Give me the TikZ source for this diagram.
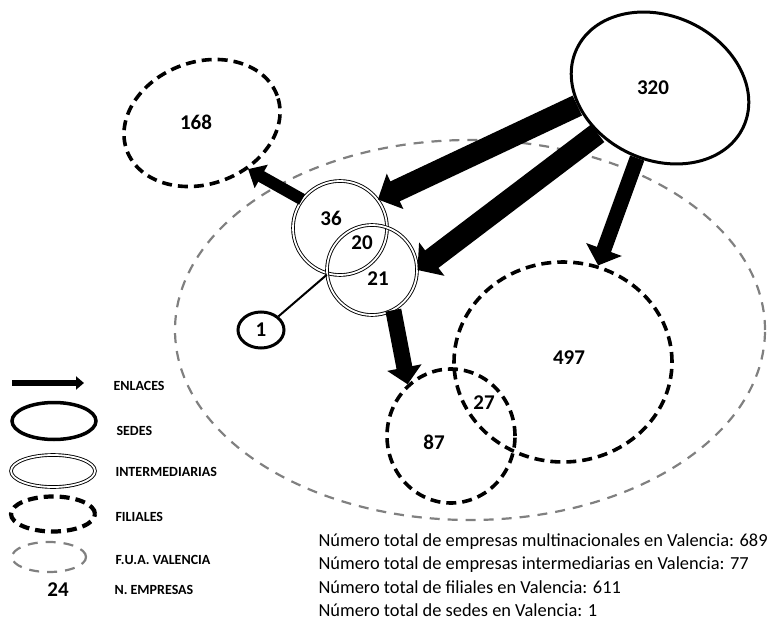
\documentclass[tikz,border=0pt]{standalone}
\usepackage{fontspec}
\setmainfont{Carlito}
\usetikzlibrary{shapes, arrows.meta}

\begin{document}
\begin{tikzpicture}[
    x=1pt, y=-1pt,
    sedeLine/.style={draw, ellipse, line width=3pt, inner sep=0pt},
    interLine/.style={draw, circle, double, line width=0.9pt, double distance=1.8pt, inner sep=0pt},
    filialLine/.style={draw, ellipse, line width=3.6pt, dash pattern=on 10pt off 6pt, inner sep=0pt},
    fuaLine/.style={draw=gray, ellipse, line width=2.2pt, dash pattern=on 10pt off 8pt, inner sep=0pt},
    linkArrow/.style n args={3}{line width=#1, -{Triangle[width=#2, length=#3]}},
    numLabel/.style={font=\fontsize{21}{25}\selectfont\bfseries},
    legText/.style={anchor=west, font=\fontsize{14}{16}\selectfont\bfseries},
    totText/.style={anchor=base west, font=\fontsize{18.4}{23}\selectfont},
    every node/.style={
        text centered,
        }
        ]
    \useasboundingbox (0,0) rectangle (778,620);

    % area
    \node[fuaLine, minimum width=590pt, minimum height=380pt] (fua) at (470,330) {};

    % sedes
    \node[sedeLine, minimum width=184pt, minimum height=144pt, rotate=-25] (sede) at (660,88) {};
    \node[numLabel] (lab320) at (653,88) {320};
    \node[sedeLine, minimum width=46pt, minimum height=36pt, numLabel] (sede1) at (261,330) {1};

    % intermediarias
    \node[interLine, minimum size=94pt] (int36) at (340,228) {};
    \node[interLine, minimum size=90pt] (int21) at (372,270) {};
    \node[numLabel] (lab36) at (331,218) {36};
    \node[numLabel] (lab20) at (362,243) {20};
    \node[numLabel] (lab21) at (378,279) {21};

    % filiales
    \node[filialLine, minimum width=160pt, minimum height=122pt, rotate=20] (fil168) at (202,123) {};
    \node[numLabel] (lab168) at (196,122) {168};
    \node[filialLine, minimum width=218pt, minimum height=200pt] (fil497) at (563,362) {};
    \node[numLabel] (lab497) at (569,358) {497};
    \node[filialLine, minimum width=128pt, minimum height=134pt] (fil87) at (451,436) {};
    \node[numLabel] (lab87) at (434,442) {87};
    \node[numLabel] (lab27) at (484,403) {27};

    % enlaces
    \draw[linkArrow={22pt}{38pt}{19pt}] (sede.217) -- (int36.37);
    \draw[linkArrow={22pt}{41pt}{18pt}] (sede.241) -- (int21.0);
    \draw[linkArrow={15pt}{37pt}{17pt}] (sede.277) -- (fil497.70);
    \draw[linkArrow={12pt}{26pt}{15pt}] (int36.143) -- (fil168.295);
    \draw[linkArrow={16pt}{34pt}{17pt}] (int21.298) -- (fil87.130);
    \draw[line width=2pt] (sede1.38) -- (int21.186);

    % leyenda
    \coordinate (legStart) at (12,383);
    \coordinate (legEnd) at (84,383);
    \draw[linkArrow={6pt}{13pt}{8pt}] (legStart) -- (legEnd);
    \node[sedeLine, minimum width=84pt, minimum height=37pt, line width=3.5pt] (legSede) at (54,421) {};
    \node[interLine, ellipse, minimum width=84pt, minimum height=32pt] (legInter) at (53,471) {};
    \node[filialLine, minimum width=84pt, minimum height=35pt, line width=4.2pt] (legFil) at (53,514) {};
    \node[fuaLine, minimum width=74pt, minimum height=30pt] (legFua) at (49,557) {};
    \node[numLabel] (legNum) at (58,590) {24};

    \node[legText] (txtEnl) at (110,386) {ENLACES};
    \node[legText] (txtSede) at (113,431) {SEDES};
    \node[legText] (txtInter) at (112,472) {INTERMEDIARIAS};
    \node[legText] (txtFil) at (112,517) {FILIALES};
    \node[legText] (txtFua) at (112,560) {F.U.A. VALENCIA};
    \node[legText] (txtNum) at (111,590) {N. EMPRESAS};

    % totales
    \node[totText] (tot1) at (315,546) {Número total de empresas multinacionales en Valencia: 689};
    \node[totText] (tot2) at (315,569.5) {Número total de empresas intermediarias en Valencia: 77};
    \node[totText] (tot3) at (315,593) {Número total de filiales en Valencia: 611};
    \node[totText] (tot4) at (315,616) {Número total de sedes en Valencia: 1};
\end{tikzpicture}
\end{document}
